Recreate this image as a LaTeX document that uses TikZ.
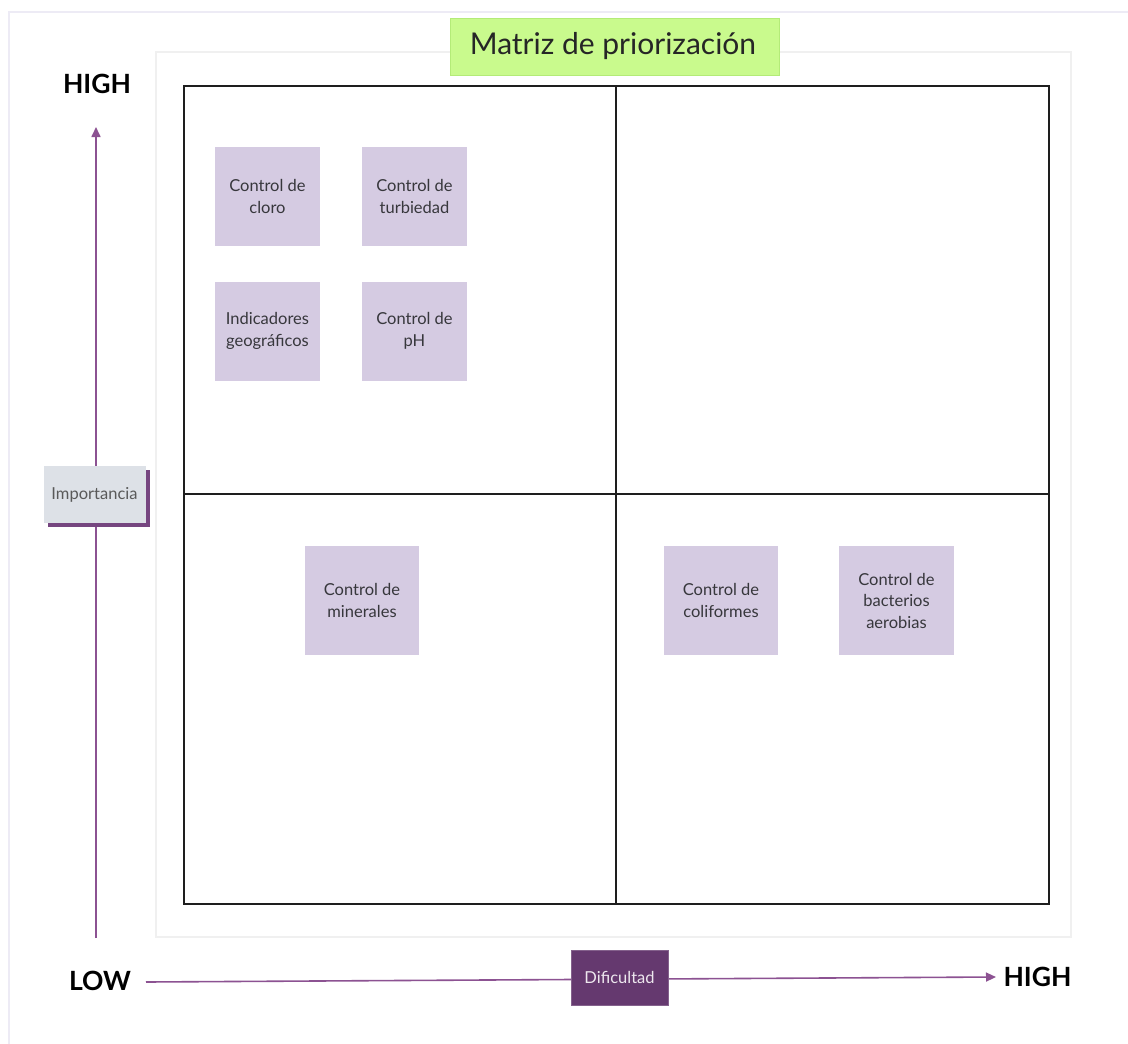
\documentclass[tikz,border=0pt]{standalone}
\usepackage{fontspec}
\setmainfont{Lato}
\usetikzlibrary{arrows.meta,shadows}

\definecolor{sticky}{RGB}{213,203,226}
\definecolor{titlegreen}{RGB}{201,250,141}
\definecolor{titleedge}{RGB}{180,235,120}
\definecolor{axispurple}{RGB}{140,82,146}
\definecolor{labelgrey}{RGB}{221,225,231}
\definecolor{shadowpurple}{RGB}{118,70,128}
\definecolor{darkpurple}{RGB}{101,57,111}
\definecolor{outerframe}{RGB}{237,235,245}
\definecolor{innerframe}{RGB}{240,240,240}
\definecolor{notetext}{RGB}{55,55,60}
\definecolor{gridline}{RGB}{30,30,30}

\tikzset{
  note/.style={fill=sticky, draw=none, minimum width=105pt, minimum height=99pt,
    align=center, font=\fontsize{16.5}{21.5}\selectfont, text=notetext, inner sep=0pt},
  bignote/.style={note, minimum width=114pt, minimum height=109pt},
  axisline/.style={draw=axispurple, line width=1.6pt},
  axisarrow/.style={axisline, -{Triangle[length=10pt,width=9pt]}},
  extreme/.style={font=\fontsize{26.5}{26.5}\selectfont\bfseries, text=black},
  grid/.style={draw=gridline, line width=2pt},
}

\begin{document}
\begin{tikzpicture}[x=1pt,y=-1pt]
  \useasboundingbox (0,0) rectangle (1128,1044);
  \fill[white] (0,0) rectangle (1128,1044);

  % page and card outlines
  \draw[outerframe, line width=1.5pt] (1128,12) -- (9,12) -- (9,1044);
  \draw[innerframe, line width=1.2pt] (156,52) rectangle (1071,937);

  % four-quadrant grid
  \draw[grid] (184,86) rectangle (1049,904);
  \draw[grid] (616,86) -- (616,904);
  \draw[grid] (184,494) -- (1049,494);

  % title
  \node[fill=titlegreen, draw=titleedge, line width=0.8pt, minimum width=329pt, minimum height=57pt,
        inner sep=0pt, font=\fontsize{30}{30}\selectfont, text=black!85] (title) at (614.5,46.5)
        {Matriz de priorización\hspace*{3pt}};

  % cards, upper-left quadrant
  \node[note] (cloro) at (267.5,196.5) {Control de\\cloro};
  \node[note] (turb) at (414.5,196.5) {Control de\\turbiedad};
  \node[note] (geo) at (267.5,331) {Indicadores\\geográficos};
  \node[note] (ph) at (414.5,331) {Control de\\pH};

  % cards, lower quadrants
  \node[bignote] (minerales) at (362,600.5) {Control de\\minerales};
  \node[bignote] (coli) at (721,600.5) {Control de\\coliformes};
  \node[bignote, minimum width=115pt] (aerob) at (896.5,600.5) {Control de\\bacterios\\aerobias};

  % vertical axis: importance
  \coordinate (vstart) at (96,938);
  \coordinate (vend) at (96,127);
  \draw[axisarrow] (vstart) -- (vend);
  \node[extreme] (vhigh) at (97,84) {HIGH};
  \node[fill=labelgrey, minimum width=102pt, minimum height=57pt, inner sep=0pt,
        font=\fontsize{16.5}{17}\selectfont, text=black!65,
        drop shadow={shadow xshift=4pt, shadow yshift=-4pt, fill=shadowpurple, opacity=1}]
        (imp) at (94.5,494.5) {Importancia};

  % horizontal axis: difficulty
  \coordinate (hstart) at (146,982);
  \coordinate (hend) at (996,977);
  \draw[axisarrow] (hstart) -- (hend);
  \node[extreme] (low) at (100,981) {LOW};
  \node[extreme] (hhigh) at (1037.5,977) {HIGH};
  \node[fill=darkpurple, draw=darkpurple!80!white, line width=0.6pt, minimum width=97pt, minimum height=55pt,
        inner sep=0pt, font=\fontsize{16.5}{17}\selectfont, text=white!88!darkpurple]
        (dif) at (619.5,977.5) {Dificultad};
\end{tikzpicture}
\end{document}
